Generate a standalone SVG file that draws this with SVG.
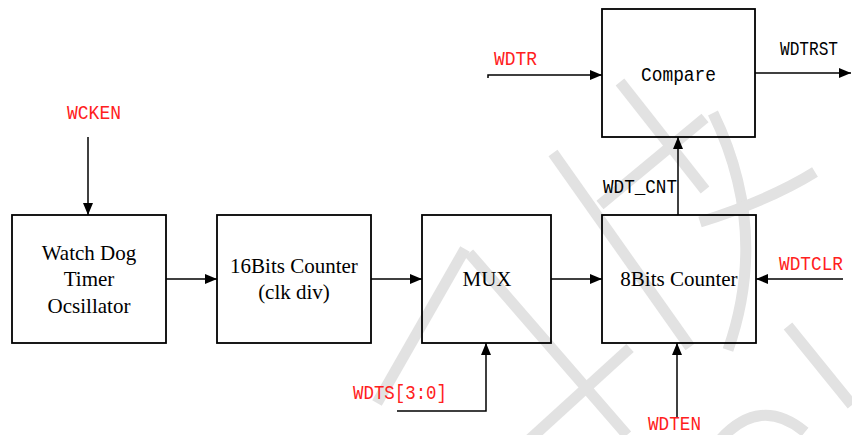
<svg xmlns="http://www.w3.org/2000/svg" width="852" height="435" viewBox="0 0 852 435">
<style>
.box{fill:none;stroke:#000;stroke-width:1.8}
.wire{fill:none;stroke:#000;stroke-width:1.5}
.serif{font-family:"Liberation Serif","Times New Roman",serif;font-size:21px;fill:#000;text-anchor:middle}
.mono{font-family:"Liberation Mono","Courier New",monospace;font-size:20px;fill:#000}
.red{fill:#ff2020}
.wm{fill:none;stroke:#e2e2e2;stroke-width:11}
</style>
<defs>
<marker id="arr" markerUnits="userSpaceOnUse" markerWidth="13" markerHeight="11" refX="12" refY="5" orient="auto">
<path d="M0,0 L12,5 L0,10 z" fill="#000"/>
</marker>
</defs>
<rect width="852" height="435" fill="#fff"/>
<g id="watermark" class="wm">
<line x1="553" y1="153" x2="690" y2="347"/>
<line x1="469" y1="253" x2="627" y2="435"/>
<line x1="620" y1="82" x2="705" y2="190"/>
<line x1="705" y1="118" x2="600" y2="205"/>
<path d="M713 113 Q770 230 728 350"/>
<path d="M815 172 Q770 200 700 222"/>
<line x1="788" y1="326" x2="852" y2="405"/>
<line x1="377" y1="403" x2="465" y2="249"/>
<line x1="529" y1="440" x2="630" y2="348"/>
<path d="M720 440 Q760 395 805 432"/>
</g>
<g id="connectors">
<line class="wire" x1="88" y1="137" x2="88" y2="215" marker-end="url(#arr)"/>
<line class="wire" x1="166" y1="279" x2="217" y2="279" marker-end="url(#arr)"/>
<line class="wire" x1="371" y1="279" x2="422" y2="279" marker-end="url(#arr)"/>
<line class="wire" x1="551" y1="279" x2="602" y2="279" marker-end="url(#arr)"/>
<line class="wire" x1="678" y1="215" x2="678" y2="137" marker-end="url(#arr)"/>
<polyline class="wire" points="488,78 488,75 602,75" marker-end="url(#arr)"/>
<line class="wire" x1="755" y1="73" x2="851" y2="73" marker-end="url(#arr)"/>
<line class="wire" x1="843" y1="279" x2="756" y2="279" marker-end="url(#arr)"/>
<line class="wire" x1="677" y1="417" x2="677" y2="343" marker-end="url(#arr)"/>
<polyline class="wire" points="397,411 486,411 486,343" marker-end="url(#arr)"/>
</g>
<g id="osc">
<rect class="box" x="12" y="215" width="154" height="128"/>
<text class="serif" x="89" y="260">Watch Dog</text>
<text class="serif" x="89" y="286">Timer</text>
<text class="serif" x="89" y="313">Ocsillator</text>
</g>
<g id="counter16">
<rect class="box" x="217" y="215" width="154" height="128"/>
<text class="serif" x="294" y="273">16Bits Counter</text>
<text class="serif" x="294" y="299">(clk div)</text>
</g>
<g id="mux">
<rect class="box" x="422" y="215" width="129" height="128"/>
<text class="serif" x="487" y="286">MUX</text>
</g>
<g id="counter8">
<rect class="box" x="602" y="215" width="154" height="128"/>
<text class="serif" x="679" y="286">8Bits Counter</text>
</g>
<g id="compare">
<rect class="box" x="602" y="9" width="153" height="128"/>
<text class="mono" x="641" y="81" textLength="75" lengthAdjust="spacingAndGlyphs">Compare</text>
</g>
<g id="labels">
<text class="mono red" x="67" y="119" textLength="54" lengthAdjust="spacingAndGlyphs">WCKEN</text>
<text class="mono red" x="494" y="65" textLength="43" lengthAdjust="spacingAndGlyphs">WDTR</text>
<text class="mono" x="780" y="55" font-size="17" textLength="58" lengthAdjust="spacingAndGlyphs">WDTRST</text>
<text class="mono" x="603" y="193" textLength="74" lengthAdjust="spacingAndGlyphs">WDT_CNT</text>
<text class="mono red" x="779" y="270" textLength="64" lengthAdjust="spacingAndGlyphs">WDTCLR</text>
<text class="mono red" x="648" y="430" textLength="53" lengthAdjust="spacingAndGlyphs">WDTEN</text>
<text class="mono red" x="353" y="399" textLength="94" lengthAdjust="spacingAndGlyphs">WDTS[3:0]</text>
</g>
</svg>
